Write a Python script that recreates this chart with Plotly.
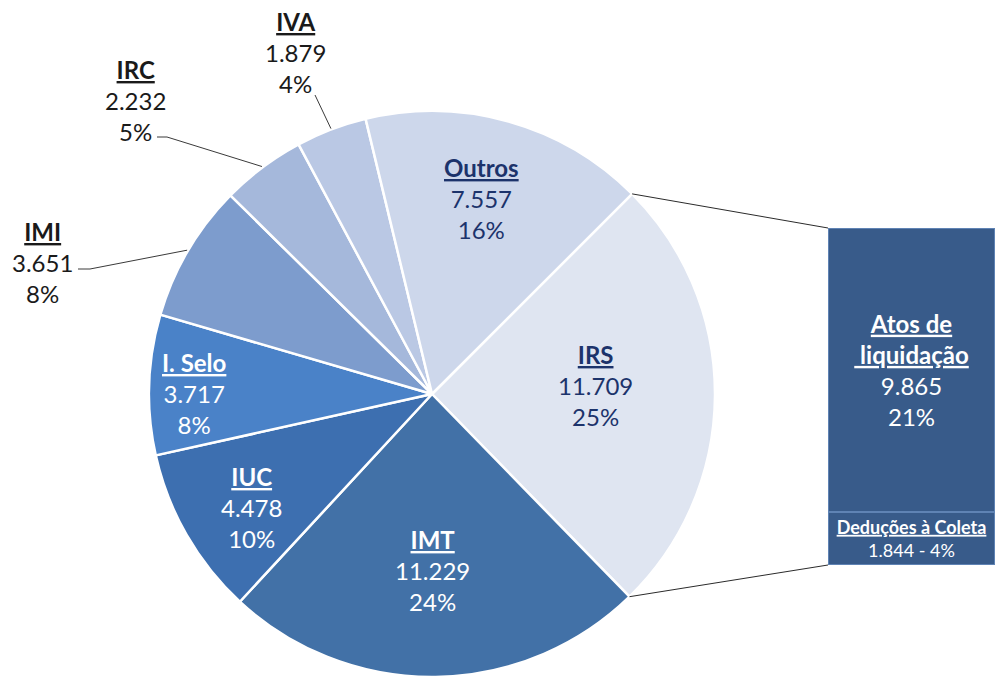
import math
import plotly.graph_objects as go

# page size and the browser's default body margin (figure is offset by it)
PAGE_W, PAGE_H = 1003, 677
OFF = 8
FW, FH = PAGE_W - 2 * OFF, PAGE_H - OFF

# ---------------- data ----------------
pie_labels = ["IRS", "IMT", "IUC", "I. Selo", "IMI", "IRC", "IVA", "Outros"]
pie_values = [11709, 11229, 4478, 3717, 3651, 2232, 1879, 7557]

bar_labels = ["Deduções à Coleta", "Atos de liquidação"]
bar_values = [1844, 9865]

TOTAL = sum(pie_values)


def fmt_num(v):
    return f"{v:,}".replace(",", ".")


def fmt_pct(v):
    return f"{round(v / TOTAL * 100)}%"


# ---------------- style / layout ----------------
FONT = "Lato, 'Open Sans', sans-serif"
pie_colors = ["#dfe5f1", "#4271a7", "#3d6fb0", "#4a82c8",
              "#7d9ccd", "#a5b8db", "#bac8e4", "#cdd7eb"]
label_colors = ["#1c336b", "white", "white", "white",
                "#1a1a1a", "#1a1a1a", "#1a1a1a", "#1c336b"]
# label centre offsets from the pie centre (page pixels)
label_offsets = [(163, -9), (0, 176), (-181, 113), (-238, -1),
                 (-390, -132), (-297, -294), (-137, -341), (49, -195)]
# leader lines for outside labels: (start offset from label centre, horizontal run)
leaders = {4: ((36, 7), 12), 5: ((22, 37), 10), 6: ((20, 42), 0)}

CX, CY, R = 432, 394, 283          # page pixels
ROT = 45
BAR_X0, BAR_TOP, BAR_BOTTOM = 828, 228, 565
BAR_COLOR = "#385b8a"


def px(x):
    return (x - OFF) / FW


def py(y):
    return 1 - (y - OFF) / FH


def edge_point(theta_deg, r=R):
    t = math.radians(theta_deg)
    return CX + r * math.sin(t), CY - r * math.cos(t)


starts = []
acc = ROT
for v in pie_values:
    starts.append(acc)
    acc += v / TOTAL * 360
mids = [s + v / TOTAL * 180 for s, v in zip(starts, pie_values)]

fig = go.Figure()

fig.add_trace(go.Pie(
    labels=pie_labels, values=pie_values, sort=False, direction="clockwise",
    rotation=ROT, textinfo="none", hoverinfo="label+value+percent",
    marker=dict(colors=pie_colors, line=dict(color="white", width=2.5)),
    domain=dict(x=[px(CX - R), px(CX + R)],
                y=[max(0, py(CY + R)), py(CY - R)]),
    showlegend=False,
))

# bar of the IRS breakdown (stacked)
bar_texts = [
    "<b><u>" + bar_labels[0] + "</u></b><br>"
    + fmt_num(bar_values[0]) + " - " + fmt_pct(bar_values[0]),
    "<b><u>Atos de</u></b><br><b><u> liquidação</u></b><br>"
    + fmt_num(bar_values[1]) + "<br>" + fmt_pct(bar_values[1]),
]
bar_sizes = [18, 24]
for lab, val, txt, sz in zip(bar_labels, bar_values, bar_texts, bar_sizes):
    fig.add_trace(go.Bar(
        x=[0], y=[val], name=lab, width=1,
        marker=dict(color=BAR_COLOR, line=dict(color="#5f83b4", width=2)),
        text=[txt], texttemplate="%{text}", textposition="inside",
        insidetextanchor="middle", constraintext="none", textangle=0,
        textfont=dict(family=FONT, size=sz, color="white"),
        showlegend=False, hoverinfo="name+y",
    ))

annotations = []
for i, lab in enumerate(pie_labels):
    dx, dy = label_offsets[i]
    txt = ("<b><u>" + lab + "</u></b><br>" + fmt_num(pie_values[i])
           + "<br>" + fmt_pct(pie_values[i]))
    annotations.append(dict(
        x=px(CX + dx), y=py(CY + dy), xref="paper", yref="paper",
        text=txt, showarrow=False, xanchor="center", yanchor="middle",
        align="center", font=dict(family=FONT, size=24, color=label_colors[i]),
    ))

shapes = []
for i, ((sx, sy), run) in leaders.items():
    dx, dy = label_offsets[i]
    x0, y0 = CX + dx + sx, CY + dy + sy
    ex, ey = edge_point(mids[i], R + 1)
    path = (f"M {px(x0)} {py(y0)} L {px(x0 + run)} {py(y0)} "
            f"L {px(ex)} {py(ey)}")
    shapes.append(dict(type="path", path=path, xref="paper", yref="paper",
                       line=dict(color="#3a3a3a", width=1)))

# connector lines from IRS slice edges to the bar corners
tx, ty = edge_point(starts[0])
bx, by = edge_point(starts[1])
shapes.append(dict(type="line", xref="paper", yref="paper",
                   x0=px(tx), y0=py(ty), x1=px(BAR_X0), y1=py(BAR_TOP),
                   line=dict(color="#2b2b2b", width=1)))
shapes.append(dict(type="line", xref="paper", yref="paper",
                   x0=px(bx), y0=py(by), x1=px(BAR_X0), y1=py(BAR_BOTTOM),
                   line=dict(color="#2b2b2b", width=1)))

fig.update_layout(
    width=FW, height=FH, margin=dict(l=0, r=0, t=0, b=0),
    paper_bgcolor="white", plot_bgcolor="rgba(0,0,0,0)",
    barmode="stack", bargap=0,
    font=dict(family=FONT),
    xaxis=dict(domain=[px(BAR_X0), 1], range=[-0.5, 0.5], visible=False,
               fixedrange=True),
    yaxis=dict(domain=[py(BAR_BOTTOM), py(BAR_TOP)], range=[0, sum(bar_values)],
               visible=False, fixedrange=True),
    annotations=annotations, shapes=shapes,
)

fig.write_html("out.html")
